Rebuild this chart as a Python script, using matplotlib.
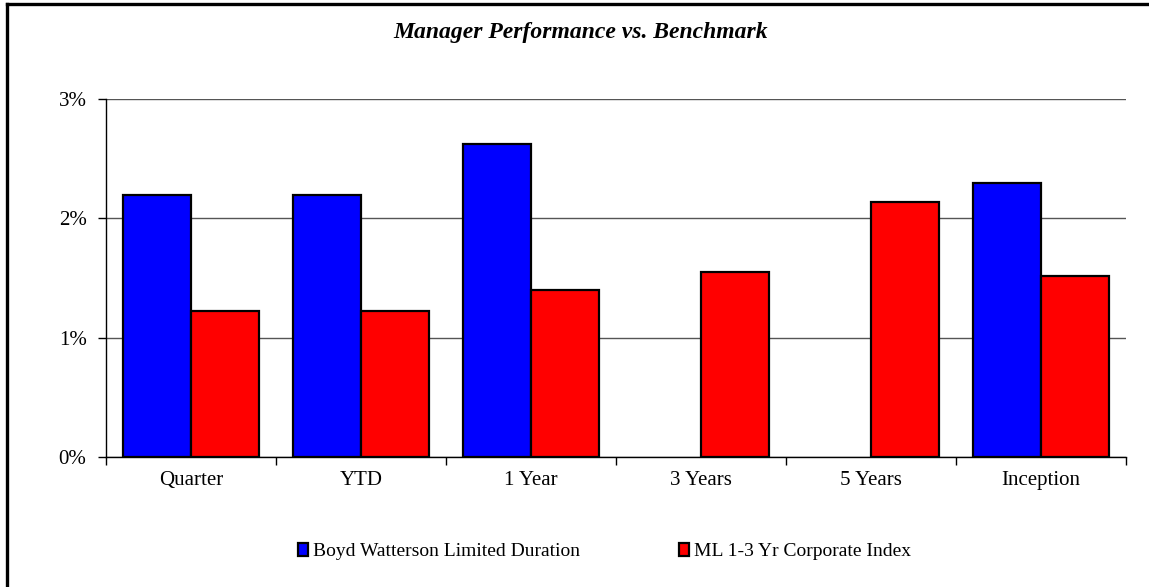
import numpy as np
import matplotlib.pyplot as plt
from matplotlib.lines import Line2D
from matplotlib.ticker import FuncFormatter

periods = ['Quarter', 'YTD', '1 Year', '3 Years', '5 Years', 'Inception']
manager = [2.20, 2.20, 2.62, np.nan, np.nan, 2.30]
benchmark = [1.22, 1.22, 1.40, 1.55, 2.14, 1.52]
series_names = ['Boyd Watterson Limited Duration', 'ML 1-3 Yr Corporate Index']

plt.rcParams['font.family'] = ['Liberation Serif', 'DejaVu Serif']

fig = plt.figure(figsize=(11.49, 5.87), dpi=100)
ax = fig.add_axes([0.0923, 0.222, 0.8877, 0.609])

x = np.arange(len(periods))
w = 0.4
ax.bar(x - w / 2, manager, w, color='#0000FF', edgecolor='black', linewidth=1.6,
       label=series_names[0], zorder=3)
ax.bar(x + w / 2, benchmark, w, color='#FF0000', edgecolor='black', linewidth=1.6,
       label=series_names[1], zorder=3)

ax.set_xlim(-0.5, len(periods) - 0.5)
ax.set_ylim(0, 3)
ax.set_yticks([0, 1, 2, 3])
ax.yaxis.set_major_formatter(FuncFormatter(lambda v, p: '%d%%' % v))
ax.grid(axis='y', color='#555555', linewidth=1.0, zorder=0)

# category labels centred, tick marks on the boundaries
ax.set_xticks(x)
ax.set_xticklabels(periods)
ax.set_xticks(np.arange(-0.5, len(periods)), minor=True)
ax.tick_params(axis='x', which='major', length=0, labelsize=15, pad=10)
ax.tick_params(axis='x', which='minor', length=6, width=1, direction='out')
ax.tick_params(axis='y', length=6, width=1, direction='out', labelsize=15, pad=8)

for s in ['top', 'right']:
    ax.spines[s].set_visible(False)
ax.spines['left'].set_linewidth(1)
ax.spines['bottom'].set_linewidth(1)

fig.text(0.505, 0.945, 'Manager Performance vs. Benchmark', ha='center', va='center',
         fontsize=17, fontweight='bold', fontstyle='italic')

ax.legend(loc='center', bbox_to_anchor=(0.526, 0.06), bbox_transform=fig.transFigure,
          ncol=2, frameon=False, fontsize=14, handlelength=0.5, handleheight=0.65,
          handletextpad=0.25, columnspacing=5.1)

# frame lines along the left and top edges
fig.add_artist(Line2D([0.0058, 0.0058], [0.0, 0.994], transform=fig.transFigure,
                      color='black', linewidth=2.4))
fig.add_artist(Line2D([0.0058, 1.0], [0.994, 0.994], transform=fig.transFigure,
                      color='black', linewidth=2.4))

fig.savefig('out.png', dpi=100)
